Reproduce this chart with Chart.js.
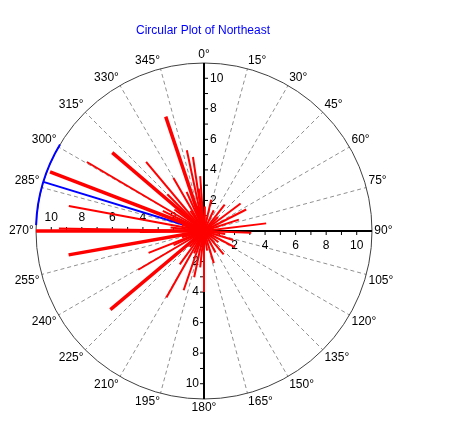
<!DOCTYPE html>
<html>
<head>
<meta charset="utf-8">
<script src="https://cdn.jsdelivr.net/npm/chart.js@4.4.1/dist/chart.umd.min.js"></script>
<style>
  body { margin: 0; background: #fff; }
</style>
</head>
<body>
<canvas id="myChart" width="469" height="434"></canvas>
<script>
const chartTitle = 'Circular Plot of Northeast';
const angleTicks = [0, 15, 30, 45, 60, 75, 90, 105, 120, 135, 150, 165, 180, 195, 210, 225, 240, 255, 270, 285, 300, 315, 330, 345];
const radialTicks = [2, 4, 6, 8, 10];
const rMax = 11;

// compass direction (deg) and length of each observation vector
const vectorAngles = [
    270, 271, 269, 291, 280.5, 300.5, 310.5, 320, 330, 341.5, 348, 351.5, 356, 353,
    13, 53, 63, 83, 92, 107, 140, 180, 192, 199, 209.5, 230, 239.5, 248.5, 260,
    2, 25, 38, 45, 72, 98, 118, 128, 152, 163, 171, 186, 204, 216, 222, 245, 254,
    276, 286, 296, 306, 315, 326, 336, 345
];
const vectorLengths = [
    11.0, 9.5, 4.2, 10.8, 9.0, 8.9, 7.9, 5.9, 4.0, 7.9, 5.4, 4.9, 3.6, 2.8,
    2.1, 3.0, 3.1, 4.1, 3.1, 2.0, 2.0, 4.0, 3.1, 4.1, 5.0, 8.0, 5.0, 3.9, 9.0,
    1.6, 1.5, 2.2, 1.3, 2.4, 1.4, 2.3, 1.2, 1.6, 2.2, 1.3, 2.4, 1.6, 2.7, 1.4, 2.2, 1.5,
    2.2, 1.5, 3.0, 2.4, 3.4, 1.6, 2.8, 1.7
];

// mean direction and its confidence arc
const meanAngle = 287;
const meanLength = 11;
const ciLow = 272;
const ciHigh = 301;

const heavyAngles = [270, 291, 310.5, 341.5, 230, 260];

const rad = d => d * Math.PI / 180;
const toXY = (a, r) => ({ x: r * Math.sin(rad(a)), y: r * Math.cos(rad(a)) });

const datasets = vectorAngles.map((a, i) => ({
    data: [{ x: 0, y: 0 }, toXY(a, vectorLengths[i])],
    borderColor: '#ff0000',
    borderWidth: heavyAngles.includes(a) ? 3.5 : 2,
    showLine: true,
    pointRadius: 0,
    clip: false,
}));
datasets.push({
    data: [{ x: 0, y: 0 }, toXY(meanAngle, meanLength)],
    borderColor: '#0000ff',
    borderWidth: 2,
    showLine: true,
    pointRadius: 0,
    clip: false,
});

const font = '12px "Liberation Sans", Arial, sans-serif';

const polarGrid = {
    id: 'polarGrid',
    beforeDatasetsDraw(chart) {
        const { ctx } = chart;
        const sx = chart.scales.x, sy = chart.scales.y;
        const px = (a, r) => sx.getPixelForValue(toXY(a, r).x);
        const py = (a, r) => sy.getPixelForValue(toXY(a, r).y);
        const cx = sx.getPixelForValue(0), cy = sy.getPixelForValue(0);
        const R = sx.getPixelForValue(rMax) - cx;
        ctx.save();

        // dashed spokes
        ctx.strokeStyle = '#909090';
        ctx.lineWidth = 1;
        ctx.setLineDash([4, 3]);
        angleTicks.forEach(a => {
            if (a % 90 === 0) return;
            ctx.beginPath();
            ctx.moveTo(px(a, 0.3), py(a, 0.3));
            ctx.lineTo(px(a, rMax), py(a, rMax));
            ctx.stroke();
        });
        ctx.setLineDash([]);

        // outer circle
        ctx.strokeStyle = '#404040';
        ctx.beginPath();
        ctx.arc(cx, cy, R, 0, Math.PI * 2);
        ctx.stroke();

        // axes
        ctx.strokeStyle = '#000';
        ctx.lineWidth = 2;
        ctx.beginPath();
        ctx.moveTo(cx, cy - R); ctx.lineTo(cx, cy + R);
        ctx.moveTo(cx - R, cy); ctx.lineTo(cx + R, cy);
        ctx.stroke();

        // tick marks
        ctx.lineWidth = 1;
        ctx.beginPath();
        for (let v = 1; v <= 10; v++) {
            const d = sx.getPixelForValue(v) - cx;
            ctx.moveTo(cx, cy - d); ctx.lineTo(cx + 4, cy - d);
            ctx.moveTo(cx + d, cy); ctx.lineTo(cx + d, cy + 4);
            ctx.moveTo(cx, cy + d); ctx.lineTo(cx - 4, cy + d);
            ctx.moveTo(cx - d, cy); ctx.lineTo(cx - d, cy - 4);
        }
        ctx.stroke();

        // radial tick labels
        ctx.fillStyle = '#000';
        ctx.font = font;
        radialTicks.forEach(v => {
            const d = sx.getPixelForValue(v) - cx;
            ctx.textAlign = 'left'; ctx.textBaseline = 'middle';
            ctx.fillText(v, cx + 6, cy - d);
            ctx.textAlign = 'right';
            ctx.fillText(v, cx - 5, cy + d);
            ctx.textAlign = 'center'; ctx.textBaseline = 'top';
            ctx.fillText(v, cx + d, cy + 9);
            ctx.textBaseline = 'bottom';
            ctx.fillText(v, cx - d, cy - 7);
        });

        // angle labels
        angleTicks.forEach(a => {
            const s = Math.sin(rad(a)), c = Math.cos(rad(a));
            ctx.textAlign = s > 0.01 ? 'left' : (s < -0.01 ? 'right' : 'center');
            ctx.textBaseline = c > 0.01 ? 'bottom' : (c < -0.01 ? 'top' : 'middle');
            ctx.fillText(a + '°', px(a, rMax + 0.15), py(a, rMax + 0.15));
        });
        ctx.restore();
    },
    afterDatasetsDraw(chart) {
        const { ctx } = chart;
        const sx = chart.scales.x, sy = chart.scales.y;
        const cx = sx.getPixelForValue(0), cy = sy.getPixelForValue(0);
        const R = sx.getPixelForValue(rMax) - cx;
        ctx.save();
        ctx.strokeStyle = '#0000ff';
        ctx.lineWidth = 2;
        ctx.beginPath();
        ctx.arc(cx, cy, R, rad(ciLow - 90), rad(ciHigh - 90));
        ctx.stroke();

        ctx.fillStyle = '#0000ff';
        ctx.font = font;
        ctx.textAlign = 'center';
        ctx.textBaseline = 'middle';
        ctx.fillText(chartTitle, cx - 1, 31);
        ctx.restore();
    }
};

const cts = document.querySelector('#myChart').getContext('2d');

const config = {
    type: 'scatter',
    data: { datasets },
    options: {
        responsive: false,
        animation: false,
        layout: { padding: { left: 36, right: 97, top: 63, bottom: 35 } },
        scales: {
            x: { display: false, min: -rMax, max: rMax },
            y: { display: false, min: -rMax, max: rMax },
        },
        plugins: {
            legend: { display: false },
            tooltip: { enabled: false },
        },
    },
    plugins: [polarGrid],
};

const myChart = new Chart(cts, config);
</script>
</body>
</html>
